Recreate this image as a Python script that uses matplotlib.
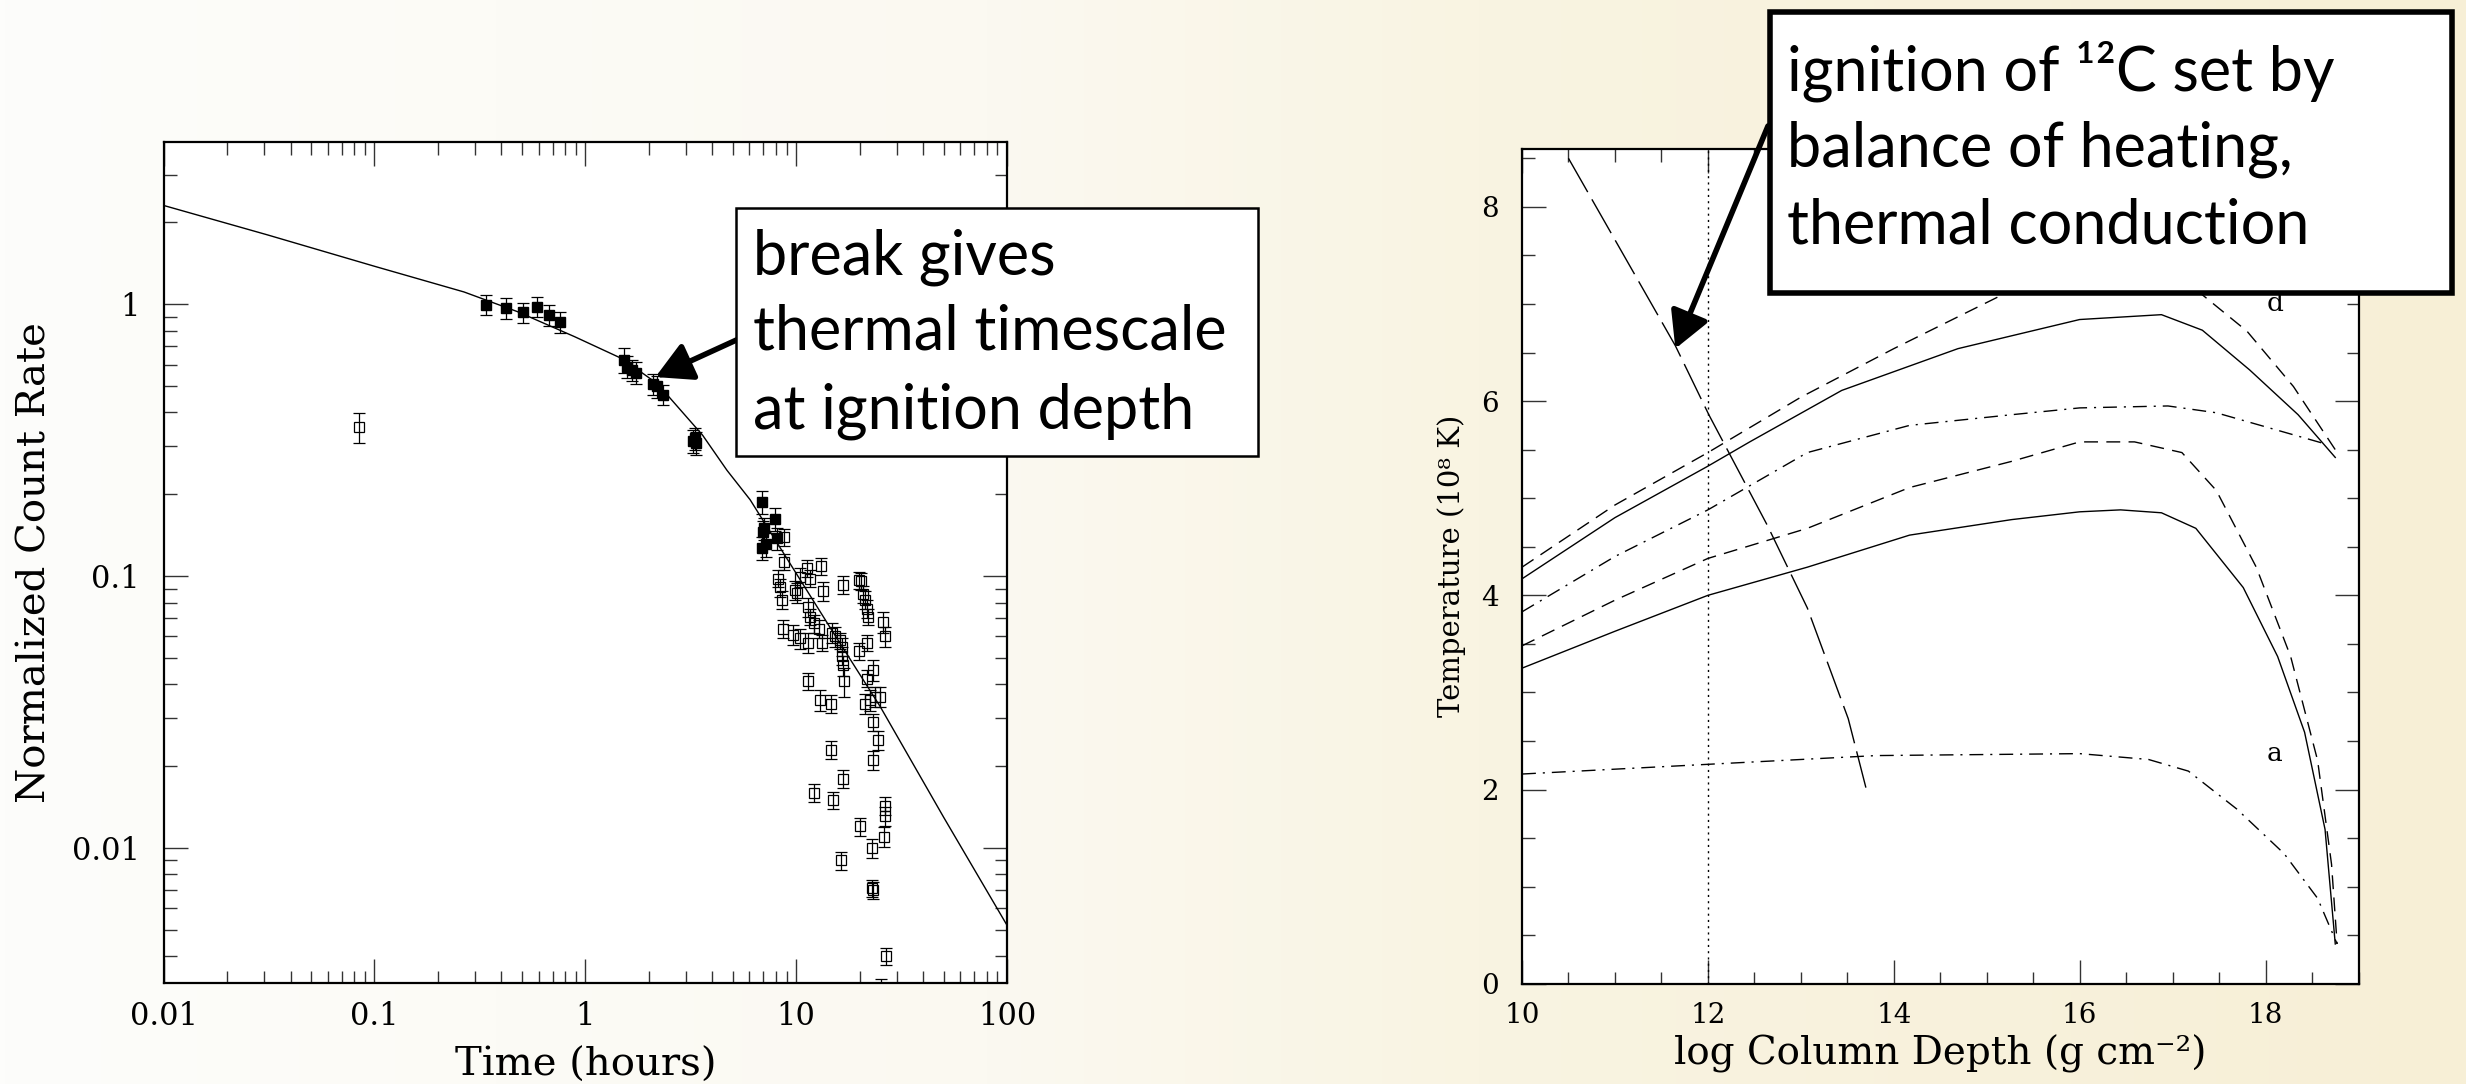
import numpy as np
import matplotlib.pyplot as plt
from matplotlib.patches import Rectangle
from matplotlib.ticker import LogLocator, NullFormatter, FuncFormatter, MultipleLocator

plt.rcParams['font.family'] = ['DejaVu Serif']

# ---- left panel: normalized count rate vs time ----
fit_time = [0.01, 0.0311, 0.1, 0.266, 0.476, 0.89, 1.5, 2.2, 3.6, 4.7, 6.05, 10.45, 15, 25, 50, 100]
fit_rate = [2.31, 1.80, 1.38, 1.11, 0.94, 0.76, 0.63, 0.51, 0.33, 0.245, 0.191, 0.097, 0.062, 0.0332, 0.013, 0.0052]

filled_time = [0.338, 0.421, 0.506, 0.591, 0.673, 0.762, 1.52, 1.58, 1.66, 1.745, 2.09, 2.19, 2.33,
               3.25, 3.32, 3.36, 6.87, 7.0, 7.07, 7.2, 6.9, 7.9, 8.1]
filled_rate = [0.995, 0.968, 0.935, 0.981, 0.910, 0.859, 0.625, 0.590, 0.574, 0.561, 0.509, 0.499, 0.465,
               0.315, 0.322, 0.308, 0.188, 0.145, 0.150, 0.131, 0.127, 0.162, 0.138]
filled_err = [0.085, 0.085, 0.08, 0.085, 0.08, 0.075, 0.065, 0.055, 0.05, 0.05, 0.045, 0.045, 0.04,
              0.03, 0.03, 0.03, 0.018, 0.014, 0.014, 0.013, 0.012, 0.016, 0.013]

open_time = [8.71, 8.77, 8.17, 8.34, 8.55, 10.45, 11.2, 11.6, 13.1, 13.4, 9.89, 10.07, 8.65, 9.71,
             10.4, 11.4, 11.4, 11.6, 12.2, 12.9, 13.2, 14.8, 15.3, 16.2, 16.5, 16.5, 16.6, 16.9,
             16.7, 19.9, 20.2, 20.8, 21.2, 21.6, 22.0, 19.9, 21.6, 23.2, 21.6, 21.2, 22.4, 23.7,
             25.0, 23.1, 24.5, 23.1, 25.9, 26.4, 11.4, 13.0, 14.6, 14.6, 16.7, 12.2, 15.0, 20.1,
             22.8, 26.4, 26.4, 26.1, 16.4, 23.1, 23.0, 26.7, 0.0843, 25.3]
open_rate = [0.139, 0.113, 0.098, 0.091, 0.082, 0.099, 0.107, 0.098, 0.109, 0.088, 0.089, 0.087, 0.064, 0.061,
             0.059, 0.057, 0.077, 0.071, 0.067, 0.064, 0.057, 0.062, 0.060, 0.058, 0.055, 0.051, 0.047, 0.041,
             0.093, 0.097, 0.096, 0.086, 0.082, 0.076, 0.071, 0.053, 0.057, 0.045, 0.042, 0.034, 0.035, 0.036,
             0.036, 0.029, 0.025, 0.021, 0.068, 0.060, 0.041, 0.035, 0.034, 0.023, 0.018, 0.016, 0.015, 0.012,
             0.0100, 0.0143, 0.0131, 0.0110, 0.0090, 0.0070, 0.0071, 0.0040, 0.353, 0.0029]
open_err = [0.010, 0.008, 0.007, 0.007, 0.006, 0.008, 0.008, 0.007, 0.008, 0.007, 0.007, 0.007, 0.005, 0.005,
            0.005, 0.005, 0.006, 0.005, 0.005, 0.005, 0.004, 0.005, 0.005, 0.004, 0.004, 0.004, 0.004, 0.005,
            0.007, 0.007, 0.007, 0.006, 0.006, 0.006, 0.005, 0.004, 0.004, 0.004, 0.003, 0.003, 0.003, 0.003,
            0.003, 0.002, 0.002, 0.0017, 0.006, 0.005, 0.003, 0.003, 0.0025, 0.0017, 0.0014, 0.0012, 0.0011, 0.0009,
            0.0008, 0.0011, 0.0010, 0.0009, 0.0007, 0.0005, 0.0005, 0.0003, 0.045, 0.0004]

time_ticks = [0.01, 0.1, 1, 10, 100]
rate_ticks = [0.01, 0.1, 1]

# ---- right panel: temperature vs log column depth ----
d_top_dash = [10.0, 11.0, 12.0, 13.0, 14.0, 15.2, 16.0, 16.5, 17.0, 17.3, 17.8, 18.3, 18.75]
t_top_dash = [4.29, 4.93, 5.47, 6.04, 6.54, 7.11, 7.35, 7.40, 7.30, 7.11, 6.72, 6.15, 5.50]

d_top_solid = [10.0, 11.0, 12.0, 12.45, 13.44, 14.69, 16.0, 16.88, 17.32, 17.83, 18.35, 18.75]
t_top_solid = [4.17, 4.80, 5.33, 5.58, 6.11, 6.54, 6.84, 6.89, 6.73, 6.32, 5.86, 5.42]

d_mid_dashdot = [10.0, 11.0, 12.0, 13.07, 14.17, 15.27, 16.0, 16.95, 17.47, 18.64]
t_mid_dashdot = [3.83, 4.40, 4.88, 5.47, 5.75, 5.86, 5.93, 5.95, 5.88, 5.56]

d_mid_dash = [10.0, 11.0, 12.0, 13.07, 14.17, 15.27, 16.0, 16.59, 17.1, 17.47, 17.9, 18.27, 18.56, 18.71, 18.77]
t_mid_dash = [3.48, 3.95, 4.38, 4.69, 5.11, 5.38, 5.58, 5.58, 5.47, 5.08, 4.29, 3.37, 2.30, 1.23, 0.41]

d_low_solid = [10.0, 11.0, 12.0, 13.07, 14.17, 15.27, 16.0, 16.44, 16.88, 17.25, 17.76, 18.13, 18.42, 18.64, 18.75]
t_low_solid = [3.25, 3.63, 4.00, 4.29, 4.62, 4.78, 4.86, 4.88, 4.85, 4.69, 4.08, 3.37, 2.59, 1.59, 0.41]

d_low_dashdot = [10.0, 12.0, 13.81, 16.0, 16.74, 17.17, 17.69, 18.2, 18.56, 18.77]
t_low_dashdot = [2.16, 2.26, 2.35, 2.37, 2.31, 2.19, 1.80, 1.34, 0.88, 0.41]

d_ignition = [10.5, 11.65, 12.01, 12.64, 13.07, 13.51, 13.70]
t_ignition = [8.50, 6.57, 5.86, 4.72, 3.87, 2.73, 2.02]

depth_ticks = [10, 12, 14, 16, 18]
temp_ticks = [0, 2, 4, 6, 8]

W, H = 2466, 1084
fig = plt.figure(figsize=(W / 100, H / 100), dpi=100)


def fx(px):
    return px / W


def fy(py):
    return 1 - py / H


# cream background, lighter on the left
bg = fig.add_axes([0, 0, 1, 1], zorder=-10)
stops = np.array([[253, 253, 251], [251, 249, 241], [249, 244, 226], [247, 239, 214]]) / 255
xs = np.linspace(0, 1, 512)
grad = np.stack([np.interp(xs, [0, 0.4, 0.6, 1], stops[:, i]) for i in range(3)], axis=-1)[None]
bg.imshow(grad, aspect='auto', extent=[0, 1, 0, 1])
bg.axis('off')


def style(ax):
    for s in ax.spines.values():
        s.set_linewidth(1.6)
    ax.tick_params(which='both', direction='in', top=True, right=True, width=1.0, color='#333333')
    ax.tick_params(which='major', length=17)
    ax.tick_params(which='minor', length=9)
    ax.tick_params(axis='x', pad=13)
    ax.tick_params(axis='y', pad=17)


# ---- left axes ----
ax1 = fig.add_axes([fx(163.6), fy(983.3), (1007 - 163.6) / W, (983.3 - 141.5) / H])
style(ax1)
ax1.set_xscale('log')
ax1.set_yscale('log')
ax1.set_xlim(0.01, 100)
ax1.set_ylim(0.00318, 3.97)
ax1.set_xticks(time_ticks)
ax1.set_yticks(rate_ticks)
ax1.xaxis.set_minor_locator(LogLocator(base=10, subs=np.arange(2, 10)))
ax1.yaxis.set_minor_locator(LogLocator(base=10, subs=np.arange(2, 10)))
ax1.xaxis.set_minor_formatter(NullFormatter())
ax1.yaxis.set_minor_formatter(NullFormatter())
ax1.xaxis.set_major_formatter(FuncFormatter(lambda v, p: '%g' % v))
ax1.yaxis.set_major_formatter(FuncFormatter(lambda v, p: '%g' % v))
ax1.tick_params(labelsize=22)

ax1.plot(fit_time, fit_rate, color='k', lw=1.0)
ax1.errorbar(open_time, open_rate, yerr=open_err, fmt='s', mfc='none', mec='k', mew=0.9, ms=7,
             ecolor='k', elinewidth=0.9, capsize=4, capthick=0.9)
ax1.errorbar(filled_time, filled_rate, yerr=filled_err, fmt='s', mfc='k', mec='k', ms=7,
             ecolor='k', elinewidth=0.9, capsize=4, capthick=0.9)

ax1.set_xlabel('Time (hours)', fontsize=29, va='center')
ax1.xaxis.set_label_coords(0.5, -0.097)
ax1.set_ylabel('Normalized Count Rate', fontsize=29, va='center', ha='center')
ax1.yaxis.set_label_coords(-0.152, 0.5)

# ---- right axes ----
ax2 = fig.add_axes([fx(1522), fy(983.8), (2358.5 - 1522) / W, (983.8 - 148.6) / H])
style(ax2)
ax2.set_xlim(10, 19)
ax2.set_ylim(0, 8.6)
ax2.set_xticks(depth_ticks)
ax2.set_yticks(temp_ticks)
ax2.xaxis.set_minor_locator(MultipleLocator(0.5))
ax2.yaxis.set_minor_locator(MultipleLocator(0.5))
ax2.tick_params(labelsize=20)

lw = 1.0
ax2.plot(d_top_dash, t_top_dash, color='k', lw=lw, ls=(0, (10, 6)))
ax2.plot(d_top_solid, t_top_solid, color='k', lw=lw)
ax2.plot(d_mid_dashdot, t_mid_dashdot, color='k', lw=lw, ls=(0, (10, 5, 1.5, 5)))
ax2.plot(d_mid_dash, t_mid_dash, color='k', lw=lw, ls=(0, (10, 6)))
ax2.plot(d_low_solid, t_low_solid, color='k', lw=lw)
ax2.plot(d_low_dashdot, t_low_dashdot, color='k', lw=lw, ls=(0, (10, 5, 1.5, 5)))
ax2.plot(d_ignition, t_ignition, color='k', lw=lw, ls=(0, (28, 6)))
ax2.axvline(12, color='k', lw=1.0, ls=(0, (1.5, 3)))
ax2.text(18.1, 7.0, 'd', fontsize=19, ha='center', va='center')
ax2.text(18.1, 2.37, 'a', fontsize=19, ha='center', va='center')

ax2.set_xlabel('log Column Depth (g cm\u207b\u00b2)', fontsize=28, va='center')
ax2.xaxis.set_label_coords(0.5, -0.084)
ax2.set_ylabel('Temperature (10\u2078 K)', fontsize=21, va='center', ha='center')
ax2.yaxis.set_label_coords(-0.084, 0.5)

# ---- annotation boxes ----
fig.add_artist(Rectangle((fx(736), fy(456)), (1258 - 736) / W, (456 - 208) / H, transform=fig.transFigure,
                         facecolor='white', edgecolor='k', lw=1.8, zorder=10))
for txt, base in [('break gives', 274), ('thermal timescale', 350), ('at ignition depth', 428)]:
    fig.text(fx(753), fy(base), txt, fontsize=44, family='Lato', va='baseline', zorder=11)

fig.add_artist(Rectangle((fx(1770), fy(293)), (2452 - 1770) / W, (293 - 12) / H, transform=fig.transFigure,
                         facecolor='white', edgecolor='k', lw=4.0, zorder=10))
for txt, base in [('ignition of \u00b9\u00b2C set by', 90), ('balance of heating,', 167),
                  ('thermal conduction', 243)]:
    fig.text(fx(1787), fy(base), txt, fontsize=44, family='Lato', va='baseline', zorder=11)

arrow = dict(arrowstyle='-|>,head_length=0.55,head_width=0.3', lw=4, color='k',
             shrinkA=0, shrinkB=0, mutation_scale=40)
ax1.annotate('', xy=(2.15, 0.54), xycoords='data', xytext=(fx(743), fy(337)),
             textcoords='figure fraction', arrowprops=arrow, zorder=9)
ax2.annotate('', xy=(11.65, 6.54), xycoords='data', xytext=(fx(1768), fy(126)),
             textcoords='figure fraction', arrowprops=arrow, zorder=9)

fig.savefig('out.png', dpi=100)
